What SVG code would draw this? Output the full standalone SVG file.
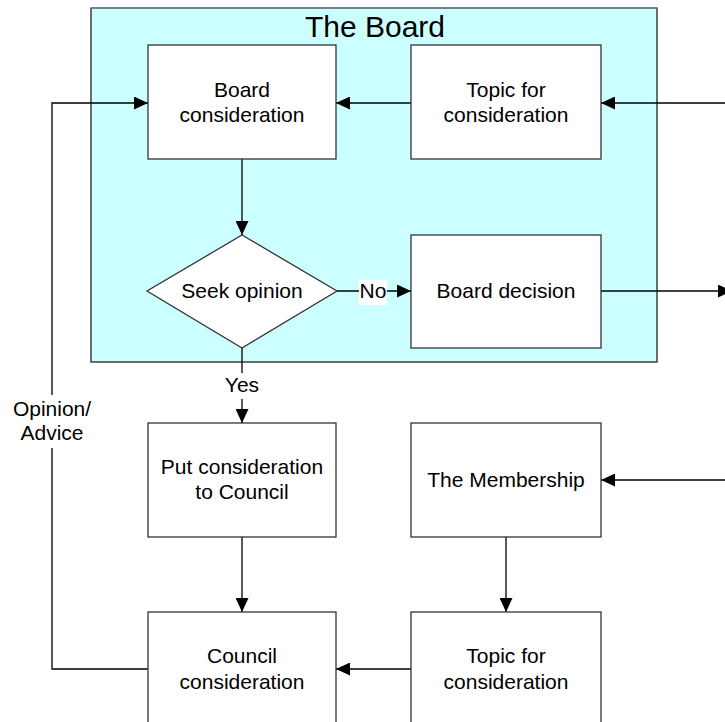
<svg xmlns="http://www.w3.org/2000/svg" width="725" height="722" viewBox="0 0 725 722">
  <style>
    .box { fill: #ffffff; stroke: #333333; stroke-width: 1.3; }
    .lbl { font-family: "Liberation Sans", Arial, sans-serif; font-size: 21px; fill: #000000; text-anchor: middle; }
    .conn { fill: none; stroke: #000000; stroke-width: 1.3; }
    .arrow { marker-end: url(#head); }
  </style>
  <defs>
    <marker id="head" markerUnits="userSpaceOnUse" markerWidth="14" markerHeight="13" refX="14" refY="6.5" orient="auto">
      <path d="M0,0 L14,6.5 L0,13 z" fill="#000000"/>
    </marker>
  </defs>

  <rect width="725" height="722" fill="#ffffff"/>

  <!-- Board container -->
  <g id="board-area">
    <rect x="91" y="8" width="566" height="354" fill="#ccffff" stroke="#222222" stroke-width="1.3"/>
    <line x1="91" y1="8" x2="657" y2="8" stroke="#7f8a8a" stroke-width="1.5"/>
    <text x="375" y="37" class="lbl" font-size="30" style="font-size:30px">The Board</text>
  </g>

  <!-- Connectors -->
  <g id="connectors">
    <!-- external topic into the board -->
    <line class="conn arrow" x1="726" y1="103" x2="601" y2="103"/>
    <!-- topic -> board consideration -->
    <line class="conn arrow" x1="411" y1="103" x2="336" y2="103"/>
    <!-- board consideration -> seek opinion -->
    <line class="conn arrow" x1="242" y1="159" x2="242" y2="235"/>
    <!-- seek opinion -> board decision (No) -->
    <line class="conn arrow" x1="337" y1="291" x2="411" y2="291"/>
    <!-- board decision -> out -->
    <line class="conn arrow" x1="601" y1="291" x2="732" y2="291"/>
    <!-- seek opinion -> put to council (Yes) -->
    <line class="conn" x1="242" y1="348" x2="242" y2="373"/>
    <line class="conn arrow" x1="242" y1="399" x2="242" y2="423"/>
    <!-- put to council -> council consideration -->
    <line class="conn arrow" x1="242" y1="537" x2="242" y2="612"/>
    <!-- external input to membership -->
    <line class="conn arrow" x1="726" y1="480" x2="601" y2="480"/>
    <!-- membership -> topic -->
    <line class="conn arrow" x1="506" y1="537" x2="506" y2="612"/>
    <!-- topic -> council consideration -->
    <line class="conn arrow" x1="411" y1="669" x2="336" y2="669"/>
    <!-- council opinion back to board -->
    <polyline class="conn" points="148,669 52,669 52,448"/>
    <polyline class="conn arrow" points="52,395 52,103 148,103"/>
    <!-- edge labels -->
    <rect x="359" y="280" width="28" height="25" fill="#ffffff"/>
    <text x="373" y="298" class="lbl">No</text>
    <text x="242" y="392" class="lbl">Yes</text>
    <text x="52" y="416" class="lbl">Opinion/</text>
    <text x="52" y="440" class="lbl">Advice</text>
  </g>

  <g id="board-consideration">
    <rect class="box" x="148" y="45" width="188" height="114"/>
    <text x="242" y="97" class="lbl">Board</text>
    <text x="242" y="122" class="lbl">consideration</text>
  </g>

  <g id="board-topic">
    <rect class="box" x="411" y="45" width="190" height="114"/>
    <text x="506" y="97" class="lbl">Topic for</text>
    <text x="506" y="122" class="lbl">consideration</text>
  </g>

  <g id="seek-opinion">
    <polygon class="box" points="242,235 337,291 242,348 147,291"/>
    <text x="242" y="298" class="lbl">Seek opinion</text>
  </g>

  <g id="board-decision">
    <rect class="box" x="411" y="235" width="190" height="113"/>
    <text x="506" y="298" class="lbl">Board decision</text>
  </g>

  <g id="put-to-council">
    <rect class="box" x="148" y="423" width="188" height="114"/>
    <text x="242" y="474" class="lbl">Put consideration</text>
    <text x="242" y="499" class="lbl">to Council</text>
  </g>

  <g id="membership">
    <rect class="box" x="411" y="423" width="190" height="114"/>
    <text x="506" y="487" class="lbl">The Membership</text>
  </g>

  <g id="council-consideration">
    <rect class="box" x="148" y="612" width="188" height="114"/>
    <text x="242" y="663" class="lbl">Council</text>
    <text x="242" y="689" class="lbl">consideration</text>
  </g>

  <g id="council-topic">
    <rect class="box" x="411" y="612" width="190" height="114"/>
    <text x="506" y="663" class="lbl">Topic for</text>
    <text x="506" y="689" class="lbl">consideration</text>
  </g>
</svg>
